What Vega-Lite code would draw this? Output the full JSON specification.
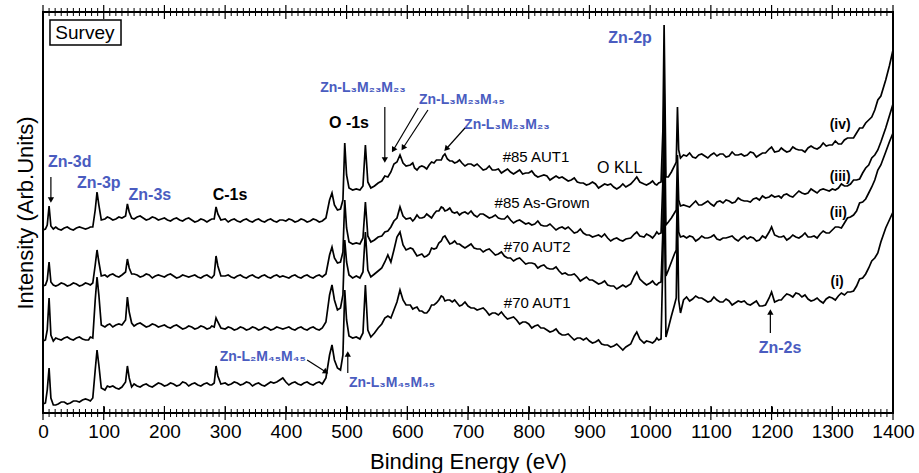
{
"$schema":"https://vega.github.io/schema/vega-lite/v6.json",
"width":850,"height":401,
"autosize":{"type":"none"},
"padding":{"left":43,"top":12,"right":26,"bottom":60},
"background":"white",
"config":{"view":{"stroke":"#000","strokeWidth":2},"font":"Liberation Sans"},
"datasets":{
"spec":[
{"E":0,"iv":183,"iii":127,"ii":72,"i":9},
{"E":4,"iv":184,"iii":128,"ii":73,"i":10},
{"E":7,"iv":188,"iii":133,"ii":83,"i":23},
{"E":10,"iv":207,"iii":151,"ii":115,"i":45},
{"E":13,"iv":187,"iii":131,"ii":78,"i":15},
{"E":17,"iv":184,"iii":128,"ii":72,"i":8},
{"E":25,"iv":184,"iii":128,"ii":74,"i":9},
{"E":35,"iv":185,"iii":129,"ii":75,"i":11},
{"E":45,"iv":184,"iii":128,"ii":74,"i":10},
{"E":55,"iv":185,"iii":129,"ii":75,"i":12},
{"E":65,"iv":185,"iii":128,"ii":74,"i":13},
{"E":75,"iv":185,"iii":129,"ii":73,"i":13},
{"E":82,"iv":186,"iii":130,"ii":75,"i":15},
{"E":86,"iv":203,"iii":148,"ii":113,"i":43},
{"E":89,"iv":221,"iii":163,"ii":136,"i":63},
{"E":92,"iv":208,"iii":151,"ii":118,"i":48},
{"E":96,"iv":193,"iii":137,"ii":88,"i":25},
{"E":102,"iv":194,"iii":138,"ii":86,"i":23},
{"E":110,"iv":195,"iii":138,"ii":89,"i":26},
{"E":120,"iv":194,"iii":137,"ii":88,"i":25},
{"E":130,"iv":195,"iii":138,"ii":88,"i":26},
{"E":136,"iv":197,"iii":141,"ii":93,"i":31},
{"E":139,"iv":209,"iii":154,"ii":116,"i":47},
{"E":142,"iv":201,"iii":145,"ii":101,"i":35},
{"E":146,"iv":195,"iii":139,"ii":90,"i":26},
{"E":155,"iv":196,"iii":138,"ii":89,"i":27},
{"E":165,"iv":195,"iii":137,"ii":88,"i":28},
{"E":175,"iv":194,"iii":138,"ii":87,"i":27},
{"E":185,"iv":195,"iii":137,"ii":88,"i":28},
{"E":195,"iv":194,"iii":137,"ii":87,"i":29},
{"E":205,"iv":193,"iii":138,"ii":86,"i":28},
{"E":215,"iv":194,"iii":137,"ii":87,"i":29},
{"E":225,"iv":193,"iii":136,"ii":86,"i":28},
{"E":235,"iv":194,"iii":137,"ii":85,"i":30},
{"E":245,"iv":193,"iii":137,"ii":86,"i":29},
{"E":255,"iv":192,"iii":136,"ii":85,"i":28},
{"E":265,"iv":193,"iii":137,"ii":86,"i":29},
{"E":275,"iv":193,"iii":136,"ii":85,"i":28},
{"E":282,"iv":194,"iii":138,"ii":86,"i":30},
{"E":285,"iv":206,"iii":157,"ii":95,"i":47},
{"E":288,"iv":199,"iii":147,"ii":91,"i":37},
{"E":293,"iv":193,"iii":137,"ii":85,"i":29},
{"E":300,"iv":194,"iii":137,"ii":84,"i":30},
{"E":310,"iv":193,"iii":136,"ii":85,"i":29},
{"E":320,"iv":192,"iii":137,"ii":84,"i":30},
{"E":330,"iv":193,"iii":136,"ii":85,"i":29},
{"E":340,"iv":192,"iii":137,"ii":84,"i":30},
{"E":350,"iv":193,"iii":136,"ii":85,"i":29},
{"E":360,"iv":192,"iii":137,"ii":84,"i":28},
{"E":370,"iv":193,"iii":136,"ii":85,"i":29},
{"E":380,"iv":192,"iii":137,"ii":84,"i":30},
{"E":390,"iv":193,"iii":136,"ii":85,"i":33},
{"E":395,"iv":193,"iii":137,"ii":84,"i":35},
{"E":400,"iv":192,"iii":136,"ii":85,"i":31},
{"E":410,"iv":193,"iii":137,"ii":84,"i":30},
{"E":420,"iv":192,"iii":136,"ii":85,"i":29},
{"E":430,"iv":193,"iii":137,"ii":84,"i":30},
{"E":440,"iv":192,"iii":136,"ii":85,"i":29},
{"E":450,"iv":193,"iii":137,"ii":84,"i":30},
{"E":460,"iv":192,"iii":136,"ii":85,"i":29},
{"E":466,"iv":195,"iii":139,"ii":91,"i":35},
{"E":472,"iv":213,"iii":158,"ii":118,"i":58},
{"E":476,"iv":220,"iii":166,"ii":128,"i":68},
{"E":480,"iv":208,"iii":155,"ii":113,"i":53},
{"E":485,"iv":203,"iii":150,"ii":103,"i":45},
{"E":490,"iv":204,"iii":151,"ii":105,"i":43},
{"E":494,"iv":213,"iii":161,"ii":118,"i":58},
{"E":497,"iv":270,"iii":213,"ii":173,"i":123},
{"E":500,"iv":238,"iii":185,"ii":151,"i":93},
{"E":504,"iv":225,"iii":171,"ii":138,"i":77},
{"E":510,"iv":223,"iii":169,"ii":135,"i":75},
{"E":516,"iv":224,"iii":170,"ii":137,"i":76},
{"E":522,"iv":223,"iii":169,"ii":135,"i":74},
{"E":527,"iv":227,"iii":175,"ii":141,"i":80},
{"E":531,"iv":268,"iii":211,"ii":181,"i":128},
{"E":535,"iv":231,"iii":177,"ii":143,"i":83},
{"E":540,"iv":225,"iii":171,"ii":136,"i":76},
{"E":546,"iv":227,"iii":173,"ii":139,"i":80},
{"E":552,"iv":230,"iii":176,"ii":142,"i":85},
{"E":558,"iv":232,"iii":177,"ii":145,"i":89},
{"E":563,"iv":237,"iii":181,"ii":151,"i":95},
{"E":568,"iv":236,"iii":182,"ii":158,"i":97},
{"E":573,"iv":241,"iii":186,"ii":151,"i":95},
{"E":578,"iv":249,"iii":192,"ii":163,"i":103},
{"E":583,"iv":251,"iii":195,"ii":176,"i":111},
{"E":588,"iv":258,"iii":206,"ii":181,"i":123},
{"E":593,"iv":250,"iii":197,"ii":168,"i":113},
{"E":598,"iv":247,"iii":194,"ii":163,"i":108},
{"E":605,"iv":248,"iii":195,"ii":165,"i":108},
{"E":612,"iv":245,"iii":194,"ii":161,"i":105},
{"E":620,"iv":246,"iii":195,"ii":158,"i":102},
{"E":628,"iv":246,"iii":196,"ii":156,"i":100},
{"E":636,"iv":248,"iii":197,"ii":159,"i":103},
{"E":644,"iv":250,"iii":199,"ii":164,"i":108},
{"E":652,"iv":253,"iii":202,"ii":170,"i":113},
{"E":659,"iv":257,"iii":205,"ii":176,"i":116},
{"E":666,"iv":254,"iii":203,"ii":173,"i":113},
{"E":674,"iv":252,"iii":201,"ii":170,"i":111},
{"E":682,"iv":251,"iii":201,"ii":169,"i":110},
{"E":690,"iv":250,"iii":200,"ii":167,"i":108},
{"E":700,"iv":249,"iii":199,"ii":167,"i":107},
{"E":710,"iv":247,"iii":198,"ii":165,"i":105},
{"E":720,"iv":246,"iii":199,"ii":164,"i":104},
{"E":730,"iv":244,"iii":197,"ii":163,"i":102},
{"E":740,"iv":243,"iii":196,"ii":161,"i":100},
{"E":750,"iv":244,"iii":195,"ii":159,"i":98},
{"E":760,"iv":242,"iii":194,"ii":157,"i":97},
{"E":770,"iv":241,"iii":193,"ii":155,"i":95},
{"E":780,"iv":241,"iii":192,"ii":154,"i":93},
{"E":790,"iv":239,"iii":191,"ii":152,"i":91},
{"E":800,"iv":240,"iii":190,"ii":150,"i":89},
{"E":810,"iv":238,"iii":189,"ii":149,"i":87},
{"E":820,"iv":237,"iii":188,"ii":147,"i":85},
{"E":830,"iv":237,"iii":187,"ii":145,"i":83},
{"E":840,"iv":235,"iii":186,"ii":144,"i":82},
{"E":850,"iv":235,"iii":185,"ii":142,"i":80},
{"E":860,"iv":234,"iii":184,"ii":140,"i":78},
{"E":870,"iv":233,"iii":183,"ii":138,"i":76},
{"E":880,"iv":231,"iii":181,"ii":136,"i":75},
{"E":890,"iv":230,"iii":180,"ii":134,"i":73},
{"E":900,"iv":229,"iii":178,"ii":133,"i":72},
{"E":910,"iv":229,"iii":177,"ii":131,"i":71},
{"E":920,"iv":227,"iii":176,"ii":130,"i":69},
{"E":930,"iv":228,"iii":175,"ii":128,"i":68},
{"E":940,"iv":226,"iii":174,"ii":127,"i":67},
{"E":950,"iv":226,"iii":173,"ii":126,"i":66},
{"E":960,"iv":226,"iii":174,"ii":126,"i":66},
{"E":968,"iv":229,"iii":175,"ii":129,"i":69},
{"E":974,"iv":233,"iii":179,"ii":137,"i":77},
{"E":978,"iv":236,"iii":181,"ii":141,"i":81},
{"E":983,"iv":231,"iii":177,"ii":134,"i":74},
{"E":990,"iv":229,"iii":176,"ii":130,"i":70},
{"E":1000,"iv":230,"iii":177,"ii":130,"i":71},
{"E":1008,"iv":229,"iii":178,"ii":129,"i":72},
{"E":1014,"iv":230,"iii":179,"ii":130,"i":73},
{"E":1018,"iv":231,"iii":180,"ii":131,"i":74},
{"E":1021,"iv":283,"iii":233,"ii":183,"i":153},
{"E":1023,"iv":388,"iii":328,"ii":283,"i":238},
{"E":1026,"iv":236,"iii":188,"ii":137,"i":76},
{"E":1030,"iv":236,"iii":191,"ii":143,"i":85},
{"E":1035,"iv":241,"iii":195,"ii":151,"i":97},
{"E":1040,"iv":247,"iii":200,"ii":159,"i":108},
{"E":1043,"iv":251,"iii":203,"ii":163,"i":115},
{"E":1045,"iv":306,"iii":258,"ii":228,"i":198},
{"E":1047,"iv":263,"iii":213,"ii":181,"i":113},
{"E":1050,"iv":255,"iii":207,"ii":176,"i":100},
{"E":1055,"iv":258,"iii":208,"ii":177,"i":113},
{"E":1060,"iv":257,"iii":207,"ii":175,"i":116},
{"E":1070,"iv":256,"iii":209,"ii":176,"i":114},
{"E":1080,"iv":258,"iii":208,"ii":174,"i":115},
{"E":1090,"iv":257,"iii":210,"ii":175,"i":113},
{"E":1100,"iv":258,"iii":209,"ii":176,"i":112},
{"E":1110,"iv":257,"iii":211,"ii":174,"i":113},
{"E":1120,"iv":259,"iii":210,"ii":175,"i":111},
{"E":1130,"iv":257,"iii":212,"ii":176,"i":112},
{"E":1140,"iv":258,"iii":211,"ii":174,"i":110},
{"E":1150,"iv":259,"iii":213,"ii":175,"i":111},
{"E":1160,"iv":258,"iii":212,"ii":174,"i":109},
{"E":1170,"iv":260,"iii":214,"ii":175,"i":110},
{"E":1180,"iv":258,"iii":213,"ii":173,"i":107},
{"E":1190,"iv":260,"iii":215,"ii":175,"i":108},
{"E":1196,"iv":264,"iii":216,"ii":181,"i":115},
{"E":1200,"iv":266,"iii":218,"ii":186,"i":121},
{"E":1205,"iv":261,"iii":216,"ii":178,"i":111},
{"E":1212,"iv":262,"iii":217,"ii":176,"i":113},
{"E":1220,"iv":263,"iii":218,"ii":177,"i":116},
{"E":1230,"iv":262,"iii":217,"ii":175,"i":118},
{"E":1240,"iv":264,"iii":219,"ii":176,"i":120},
{"E":1250,"iv":263,"iii":220,"ii":177,"i":116},
{"E":1260,"iv":265,"iii":220,"ii":176,"i":114},
{"E":1270,"iv":265,"iii":222,"ii":177,"i":113},
{"E":1280,"iv":266,"iii":223,"ii":179,"i":112},
{"E":1290,"iv":267,"iii":223,"ii":180,"i":114},
{"E":1300,"iv":268,"iii":224,"ii":183,"i":115},
{"E":1310,"iv":269,"iii":225,"ii":186,"i":117},
{"E":1320,"iv":273,"iii":227,"ii":190,"i":118},
{"E":1330,"iv":275,"iii":229,"ii":196,"i":121},
{"E":1340,"iv":280,"iii":233,"ii":202,"i":127},
{"E":1350,"iv":285,"iii":240,"ii":211,"i":135},
{"E":1360,"iv":293,"iii":248,"ii":220,"i":145},
{"E":1370,"iv":303,"iii":258,"ii":233,"i":155},
{"E":1380,"iv":317,"iii":271,"ii":248,"i":171},
{"E":1388,"iv":333,"iii":285,"ii":261,"i":185},
{"E":1394,"iv":347,"iii":297,"ii":271,"i":193},
{"E":1400,"iv":363,"iii":309,"ii":280,"i":201},
{"E":21,"iv":186,"iii":127,"ii":75,"i":8},
{"E":30,"iv":183,"iii":130,"ii":73,"i":11},
{"E":40,"iv":186,"iii":127,"ii":76,"i":9},
{"E":50,"iv":183,"iii":130,"ii":73,"i":12},
{"E":60,"iv":186,"iii":127,"ii":76,"i":11},
{"E":70,"iv":184,"iii":130,"ii":73,"i":14},
{"E":78,"iv":186,"iii":128,"ii":76,"i":12},
{"E":106,"iv":196,"iii":136,"ii":88,"i":27},
{"E":115,"iv":193,"iii":139,"ii":86,"i":27},
{"E":125,"iv":196,"iii":136,"ii":89,"i":24},
{"E":150,"iv":194,"iii":139,"ii":87,"i":29},
{"E":160,"iv":197,"iii":136,"ii":90,"i":26},
{"E":170,"iv":193,"iii":139,"ii":86,"i":29},
{"E":180,"iv":196,"iii":135,"ii":89,"i":26},
{"E":190,"iv":193,"iii":138,"ii":86,"i":30},
{"E":200,"iv":195,"iii":136,"ii":88,"i":27},
{"E":210,"iv":192,"iii":139,"ii":85,"i":30},
{"E":220,"iv":195,"iii":135,"ii":88,"i":27},
{"E":230,"iv":192,"iii":138,"ii":84,"i":31},
{"E":240,"iv":195,"iii":136,"ii":87,"i":27},
{"E":250,"iv":191,"iii":138,"ii":84,"i":30},
{"E":260,"iv":194,"iii":135,"ii":87,"i":27},
{"E":270,"iv":191,"iii":138,"ii":84,"i":30},
{"E":278,"iv":194,"iii":135,"ii":87,"i":28},
{"E":305,"iv":191,"iii":138,"ii":86,"i":28},
{"E":315,"iv":194,"iii":135,"ii":83,"i":31},
{"E":325,"iv":191,"iii":138,"ii":86,"i":28},
{"E":335,"iv":194,"iii":135,"ii":83,"i":31},
{"E":345,"iv":191,"iii":138,"ii":86,"i":27},
{"E":355,"iv":194,"iii":135,"ii":83,"i":30},
{"E":365,"iv":191,"iii":138,"ii":86,"i":27},
{"E":375,"iv":194,"iii":135,"ii":83,"i":31},
{"E":385,"iv":191,"iii":138,"ii":86,"i":31},
{"E":405,"iv":194,"iii":135,"ii":86,"i":28},
{"E":415,"iv":191,"iii":138,"ii":83,"i":31},
{"E":425,"iv":194,"iii":135,"ii":86,"i":28},
{"E":435,"iv":191,"iii":138,"ii":83,"i":31},
{"E":445,"iv":194,"iii":135,"ii":86,"i":28},
{"E":455,"iv":191,"iii":138,"ii":83,"i":31},
{"E":609,"iv":250,"iii":192,"ii":164,"i":104},
{"E":616,"iv":243,"iii":198,"ii":157,"i":106},
{"E":624,"iv":247,"iii":195,"ii":159,"i":102},
{"E":632,"iv":244,"iii":199,"ii":157,"i":100},
{"E":640,"iv":251,"iii":195,"ii":165,"i":108},
{"E":648,"iv":253,"iii":202,"ii":165,"i":110},
{"E":656,"iv":253,"iii":206,"ii":172,"i":117},
{"E":662,"iv":259,"iii":202,"ii":177,"i":112},
{"E":670,"iv":252,"iii":205,"ii":169,"i":113},
{"E":678,"iv":250,"iii":200,"ii":172,"i":113},
{"E":686,"iv":253,"iii":198,"ii":169,"i":107},
{"E":695,"iv":247,"iii":201,"ii":165,"i":111},
{"E":705,"iv":249,"iii":202,"ii":169,"i":105},
{"E":715,"iv":249,"iii":196,"ii":164,"i":103},
{"E":725,"iv":243,"iii":199,"ii":161,"i":105},
{"E":735,"iv":247,"iii":195,"ii":164,"i":98},
{"E":745,"iv":243,"iii":198,"ii":158,"i":100},
{"E":755,"iv":240,"iii":194,"ii":161,"i":101},
{"E":765,"iv":244,"iii":197,"ii":155,"i":94},
{"E":775,"iv":239,"iii":190,"ii":152,"i":96},
{"E":785,"iv":243,"iii":193,"ii":155,"i":89},
{"E":795,"iv":240,"iii":189,"ii":149,"i":91},
{"E":805,"iv":242,"iii":188,"ii":150,"i":85},
{"E":815,"iv":236,"iii":192,"ii":145,"i":88},
{"E":825,"iv":238,"iii":187,"ii":148,"i":85},
{"E":835,"iv":233,"iii":189,"ii":144,"i":81},
{"E":845,"iv":237,"iii":183,"ii":146,"i":84},
{"E":855,"iv":236,"iii":186,"ii":139,"i":78},
{"E":865,"iv":232,"iii":186,"ii":138,"i":79},
{"E":875,"iv":235,"iii":180,"ii":139,"i":73},
{"E":885,"iv":230,"iii":184,"ii":132,"i":75},
{"E":895,"iv":228,"iii":178,"ii":136,"i":75},
{"E":905,"iv":231,"iii":176,"ii":133,"i":70},
{"E":915,"iv":225,"iii":178,"ii":129,"i":73},
{"E":925,"iv":229,"iii":179,"ii":132,"i":68},
{"E":935,"iv":229,"iii":172,"ii":127,"i":66},
{"E":945,"iv":224,"iii":175,"ii":124,"i":69},
{"E":955,"iv":229,"iii":172,"ii":128,"i":63},
{"E":994,"iv":228,"iii":179,"ii":128,"i":72},
{"E":1004,"iv":232,"iii":175,"ii":132,"i":70},
{"E":1011,"iv":228,"iii":181,"ii":128,"i":75},
{"E":1065,"iv":260,"iii":206,"ii":177,"i":112},
{"E":1075,"iv":255,"iii":212,"ii":172,"i":117},
{"E":1085,"iv":259,"iii":208,"ii":177,"i":115},
{"E":1095,"iv":255,"iii":212,"ii":175,"i":111},
{"E":1105,"iv":260,"iii":207,"ii":178,"i":116},
{"E":1115,"iv":259,"iii":212,"ii":173,"i":111},
{"E":1125,"iv":256,"iii":213,"ii":175,"i":114},
{"E":1135,"iv":261,"iii":210,"ii":177,"i":108},
{"E":1145,"iv":258,"iii":215,"ii":172,"i":112},
{"E":1155,"iv":257,"iii":212,"ii":177,"i":112},
{"E":1165,"iv":261,"iii":211,"ii":176,"i":108},
{"E":1175,"iv":256,"iii":215,"ii":172,"i":112},
{"E":1185,"iv":260,"iii":217,"ii":177,"i":107},
{"E":1216,"iv":265,"iii":215,"ii":176,"i":113},
{"E":1225,"iv":261,"iii":219,"ii":173,"i":119},
{"E":1235,"iv":266,"iii":216,"ii":178,"i":116},
{"E":1245,"iv":263,"iii":222,"ii":175,"i":119},
{"E":1255,"iv":261,"iii":219,"ii":180,"i":118},
{"E":1265,"iv":267,"iii":224,"ii":176,"i":112},
{"E":1275,"iv":264,"iii":220,"ii":175,"i":115},
{"E":1285,"iv":270,"iii":224,"ii":182,"i":110},
{"E":1295,"iv":268,"iii":222,"ii":180,"i":116},
{"E":1305,"iv":272,"iii":223,"ii":186,"i":113},
{"E":1315,"iv":269,"iii":229,"ii":185,"i":120},
{"E":1325,"iv":275,"iii":227,"ii":195,"i":121},
{"E":1335,"iv":275,"iii":233,"ii":198,"i":122},
{"E":1345,"iv":285,"iii":234,"ii":210,"i":134},
{"E":1355,"iv":290,"iii":245,"ii":214,"i":139},
{"E":1365,"iv":296,"iii":255,"ii":226,"i":152},
{"E":1375,"iv":313,"iii":263,"ii":243,"i":160}
],
"notes":[
{"t":"Survey","x":69,"y":380,"c":"k","w":"n","fs":19},
{"t":"Zn-3d","x":44,"y":251,"c":"b","w":"b","fs":16},
{"t":"Zn-3p","x":92,"y":230,"c":"b","w":"b","fs":16},
{"t":"Zn-3s","x":176,"y":218,"c":"b","w":"b","fs":16},
{"t":"C-1s","x":308,"y":218,"c":"k","w":"b","fs":16},
{"t":"O -1s","x":504,"y":290,"c":"k","w":"b","fs":16},
{"t":"Zn-L₃M₂₃M₂₃","x":527,"y":325,"c":"b","w":"b","fs":14},
{"t":"Zn-L₃M₂₃M₄₅","x":690,"y":313,"c":"b","w":"b","fs":14},
{"t":"Zn-L₃M₂₃M₂₃","x":764,"y":288,"c":"b","w":"b","fs":14},
{"t":"Zn-2p","x":967,"y":375,"c":"b","w":"b","fs":16},
{"t":"#85 AUT1","x":812,"y":256,"c":"k","w":"n","fs":15},
{"t":"O  KLL","x":950,"y":245,"c":"k","w":"n","fs":16},
{"t":"#85 As-Grown","x":822,"y":210,"c":"k","w":"n","fs":15},
{"t":"#70 AUT2","x":814,"y":166,"c":"k","w":"n","fs":15},
{"t":"#70 AUT1","x":814,"y":110,"c":"k","w":"n","fs":15},
{"t":"(iv)","x":1313,"y":288,"c":"k","w":"b","fs":14},
{"t":"(iii)","x":1313,"y":236,"c":"k","w":"b","fs":14},
{"t":"(ii)","x":1310,"y":200,"c":"k","w":"b","fs":14},
{"t":"(i)","x":1308,"y":131,"c":"k","w":"b","fs":14},
{"t":"Zn-2s","x":1214,"y":65,"c":"b","w":"b","fs":16},
{"t":"Zn-L₂M₄₅M₄₅","x":362,"y":56,"c":"b","w":"b","fs":14},
{"t":"Zn-L₃M₄₅M₄₅","x":575,"y":30,"c":"b","w":"b","fs":14}
],
"arrows":[
{"x":13,"y":236,"x2":13,"y2":213,"ang":180},
{"x":563,"y":306,"x2":563,"y2":253,"ang":180},
{"x":618,"y":305,"x2":577,"y2":263,"ang":211},
{"x":634,"y":303,"x2":593,"y2":265,"ang":213},
{"x":695,"y":285,"x2":664,"y2":264,"ang":222},
{"x":435,"y":53,"x2":466,"y2":41,"ang":123},
{"x":502,"y":40,"x2":502,"y2":59,"ang":0},
{"x":1198,"y":80,"x2":1198,"y2":101,"ang":0}
],
"box":[{"x":11.5,"x2":128.5,"y":393,"y2":368}],
"major":[{"E":0},{"E":100},{"E":200},{"E":300},{"E":400},{"E":500},{"E":600},{"E":700},{"E":800},{"E":900},{"E":1000},{"E":1100},{"E":1200},{"E":1300},{"E":1400}],
"minor":[{"E":10},{"E":20},{"E":30},{"E":40},{"E":50},{"E":60},{"E":70},{"E":80},{"E":90},
{"E":110},{"E":120},{"E":130},{"E":140},{"E":150},{"E":160},{"E":170},{"E":180},{"E":190},
{"E":210},{"E":220},{"E":230},{"E":240},{"E":250},{"E":260},{"E":270},{"E":280},{"E":290},
{"E":310},{"E":320},{"E":330},{"E":340},{"E":350},{"E":360},{"E":370},{"E":380},{"E":390},
{"E":410},{"E":420},{"E":430},{"E":440},{"E":450},{"E":460},{"E":470},{"E":480},{"E":490},
{"E":510},{"E":520},{"E":530},{"E":540},{"E":550},{"E":560},{"E":570},{"E":580},{"E":590},
{"E":610},{"E":620},{"E":630},{"E":640},{"E":650},{"E":660},{"E":670},{"E":680},{"E":690},
{"E":710},{"E":720},{"E":730},{"E":740},{"E":750},{"E":760},{"E":770},{"E":780},{"E":790},
{"E":810},{"E":820},{"E":830},{"E":840},{"E":850},{"E":860},{"E":870},{"E":880},{"E":890},
{"E":910},{"E":920},{"E":930},{"E":940},{"E":950},{"E":960},{"E":970},{"E":980},{"E":990},
{"E":1010},{"E":1020},{"E":1030},{"E":1040},{"E":1050},{"E":1060},{"E":1070},{"E":1080},{"E":1090},
{"E":1110},{"E":1120},{"E":1130},{"E":1140},{"E":1150},{"E":1160},{"E":1170},{"E":1180},{"E":1190},
{"E":1210},{"E":1220},{"E":1230},{"E":1240},{"E":1250},{"E":1260},{"E":1270},{"E":1280},{"E":1290},
{"E":1310},{"E":1320},{"E":1330},{"E":1340},{"E":1350},{"E":1360},{"E":1370},{"E":1380},{"E":1390}]
},
"layer":[
{"data":{"name":"spec"},
 "transform":[{"fold":["iv","iii","ii","i"],"as":["curve","inten"]}],
 "mark":{"type":"line","color":"#000","strokeWidth":1.7},
 "encoding":{
  "x":{"field":"E","type":"quantitative","scale":{"domain":[0,1400],"nice":false,"zero":false},
       "axis":{"orient":"bottom","offset":-7,"values":[0,100,200,300,400,500,600,700,800,900,1000,1100,1200,1300,1400],"format":"d","labelOverlap":false,"labelFlush":false,"tickSize":7,"tickColor":"#000","domain":false,"grid":false,"labelFontSize":19,"labelColor":"#000","labelPadding":9,"labelFont":"Liberation Sans","title":"Binding Energy (eV)","titleFontSize":22,"titleFontWeight":"normal","titleColor":"#000","titlePadding":10,"titleFont":"Liberation Sans"}},
  "y":{"field":"inten","type":"quantitative","scale":{"domain":[0,401],"nice":false,"zero":false},
       "axis":{"orient":"left","labels":false,"ticks":false,"domain":false,"grid":false,"title":"Intensity (Arb.Units)","titleFontSize":22,"titleFontWeight":"normal","titleColor":"#000","titlePadding":6,"titleFont":"Liberation Sans"}},
  "detail":{"field":"curve"}
 }},
{"data":{"name":"major"},"mark":{"type":"tick","orient":"vertical","color":"#000","size":14,"thickness":1.2,"opacity":1},
 "encoding":{"x":{"field":"E","type":"quantitative"},"y":{"datum":0}}},
{"data":{"name":"major"},"mark":{"type":"tick","orient":"vertical","color":"#000","size":14,"thickness":1.2,"opacity":1},
 "encoding":{"x":{"field":"E","type":"quantitative"},"y":{"datum":401}}},
{"data":{"name":"minor"},"mark":{"type":"tick","orient":"vertical","color":"#000","size":8,"thickness":1,"opacity":1},
 "encoding":{"x":{"field":"E","type":"quantitative"},"y":{"datum":0}}},
{"data":{"name":"minor"},"mark":{"type":"tick","orient":"vertical","color":"#000","size":8,"thickness":1,"opacity":1},
 "encoding":{"x":{"field":"E","type":"quantitative"},"y":{"datum":401}}},
{"data":{"name":"box"},"mark":{"type":"rect","fill":null,"stroke":"#000","strokeWidth":1.5},
 "encoding":{"x":{"field":"x","type":"quantitative"},"x2":{"field":"x2"},"y":{"field":"y","type":"quantitative"},"y2":{"field":"y2"}}},
{"data":{"name":"notes"},"transform":[{"filter":"datum.w == 'n'"}],
 "mark":{"type":"text","align":"center","baseline":"middle","font":"Liberation Sans"},
 "encoding":{"x":{"field":"x","type":"quantitative"},"y":{"field":"y","type":"quantitative"},
  "text":{"field":"t"},"size":{"field":"fs","type":"quantitative","scale":null},
  "color":{"field":"c","type":"nominal","scale":{"domain":["b","k"],"range":["#4a5cc0","#000000"]},"legend":null}}},
{"data":{"name":"notes"},"transform":[{"filter":"datum.w == 'b'"}],
 "mark":{"type":"text","align":"center","baseline":"middle","font":"Liberation Sans","fontWeight":"bold"},
 "encoding":{"x":{"field":"x","type":"quantitative"},"y":{"field":"y","type":"quantitative"},
  "text":{"field":"t"},"size":{"field":"fs","type":"quantitative","scale":null},
  "color":{"field":"c","type":"nominal","scale":{"domain":["b","k"],"range":["#4a5cc0","#000000"]},"legend":null}}},
{"data":{"name":"arrows"},"mark":{"type":"rule","color":"#000","strokeWidth":1.2},
 "encoding":{"x":{"field":"x","type":"quantitative"},"x2":{"field":"x2"},"y":{"field":"y","type":"quantitative"},"y2":{"field":"y2"}}},
{"data":{"name":"arrows"},"mark":{"type":"point","shape":"triangle-up","filled":true,"color":"#000","size":40,"opacity":1},
 "encoding":{"x":{"field":"x2","type":"quantitative"},"y":{"field":"y2","type":"quantitative"},
  "angle":{"field":"ang","type":"quantitative","scale":null}}}
]
}
